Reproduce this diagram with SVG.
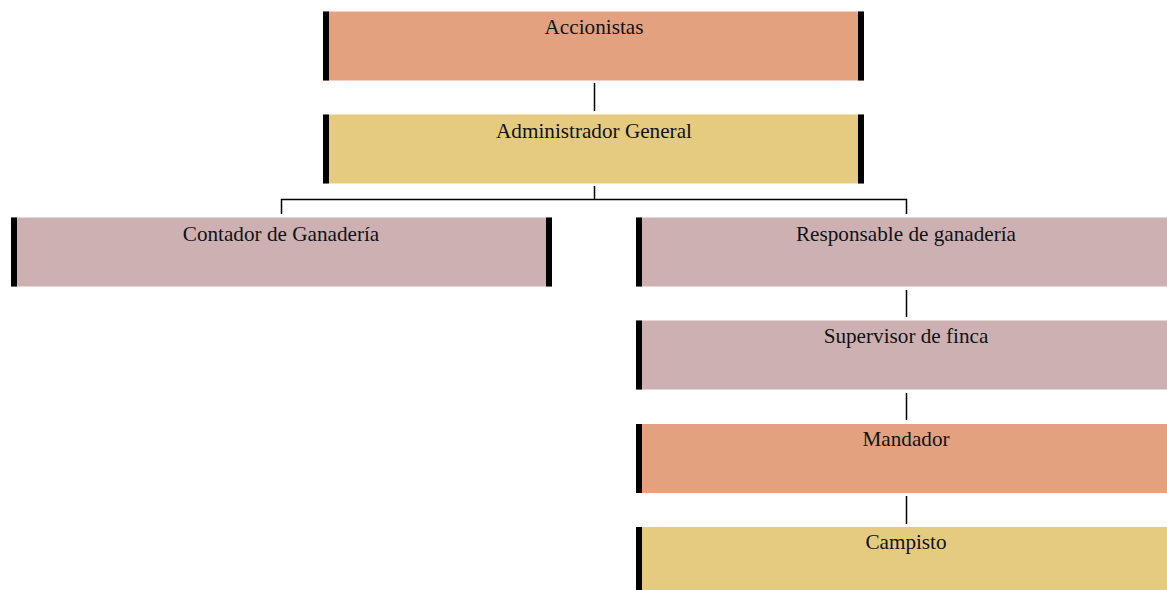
<svg xmlns="http://www.w3.org/2000/svg" width="1167" height="590" viewBox="0 0 1167 590">
<style>
.salmon{fill:#E4A17F}
.yellow{fill:#E5CB80}
.pink{fill:#CDB1B2}
.bar{fill:#000}
.lbl{font-family:"Liberation Serif","Times New Roman",serif;font-size:21.2px;fill:#111;text-anchor:middle}
.conn{stroke:#000;stroke-width:1.5;fill:none}
</style>
<rect width="1167" height="590" fill="#fff"/>
<g id="connectors">
<line class="conn" x1="594.5" y1="83" x2="594.5" y2="111"/>
<line class="conn" x1="594.5" y1="186" x2="594.5" y2="199.5"/>
<polyline class="conn" points="281.5,214 281.5,199.5 906.5,199.5 906.5,214"/>
<line class="conn" x1="906.5" y1="290" x2="906.5" y2="317"/>
<line class="conn" x1="906.5" y1="393" x2="906.5" y2="420"/>
<line class="conn" x1="906.5" y1="496" x2="906.5" y2="524"/>
</g>
<g id="accionistas">
<rect class="salmon" x="323" y="11.5" width="541" height="69"/>
<rect class="bar" x="323" y="11.5" width="6" height="69"/>
<rect class="bar" x="858" y="11.5" width="6" height="69"/>
<text class="lbl" x="594" y="33.5">Accionistas</text>
</g>
<g id="administrador">
<rect class="yellow" x="323" y="114.5" width="541" height="69"/>
<rect class="bar" x="323" y="114.5" width="6" height="69"/>
<rect class="bar" x="858" y="114.5" width="6" height="69"/>
<text class="lbl" x="594" y="137.5">Administrador General</text>
</g>
<g id="contador">
<rect class="pink" x="11" y="217.5" width="541" height="69"/>
<rect class="bar" x="11" y="217.5" width="6" height="69"/>
<rect class="bar" x="546" y="217.5" width="6" height="69"/>
<text class="lbl" x="281" y="241">Contador de Ganadería</text>
</g>
<g id="responsable">
<rect class="pink" x="636" y="217.5" width="541" height="69"/>
<rect class="bar" x="636" y="217.5" width="6" height="69"/>
<text class="lbl" x="906" y="241">Responsable de ganadería</text>
</g>
<g id="supervisor">
<rect class="pink" x="636" y="320.5" width="541" height="69"/>
<rect class="bar" x="636" y="320.5" width="6" height="69"/>
<text class="lbl" x="906" y="343">Supervisor de finca</text>
</g>
<g id="mandador">
<rect class="salmon" x="636" y="424" width="541" height="69"/>
<rect class="bar" x="636" y="424" width="6" height="69"/>
<text class="lbl" x="906" y="446">Mandador</text>
</g>
<g id="campisto">
<rect class="yellow" x="636" y="527" width="541" height="69"/>
<rect class="bar" x="636" y="527" width="6" height="69"/>
<text class="lbl" x="906" y="549">Campisto</text>
</g>
</svg>
